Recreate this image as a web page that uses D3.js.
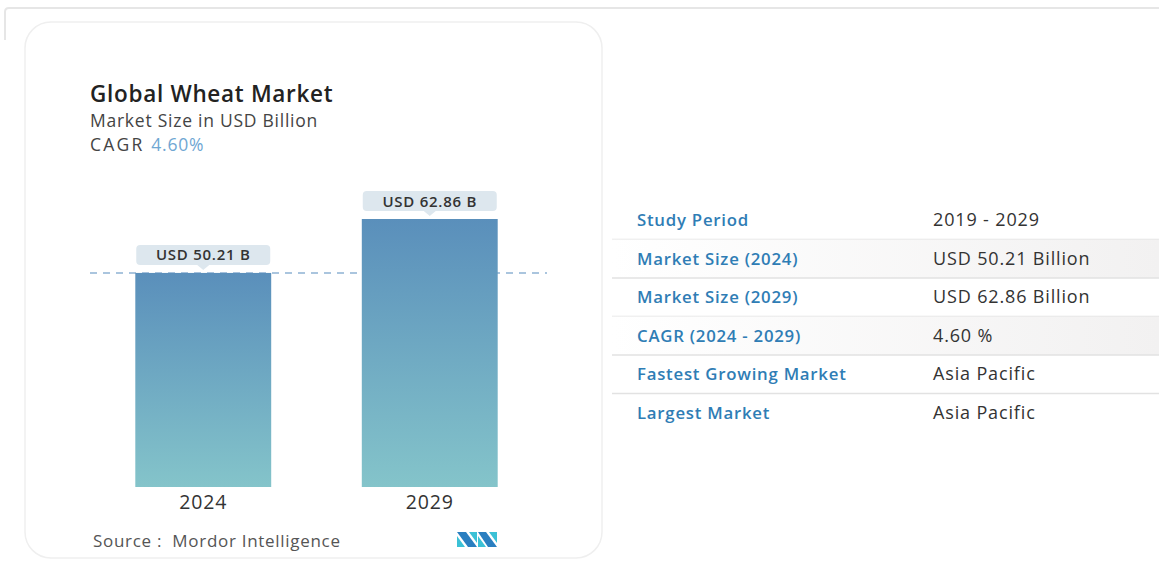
<!DOCTYPE html>
<html>
<head>
<meta charset="utf-8">
<script src="https://cdn.jsdelivr.net/npm/d3@7"></script>
<style>
  body { margin: 0; background: #fff; font-family: "Open Sans", Lato, sans-serif; }
  svg { display: block; }
</style>
</head>
<body>
<svg id="chart" width="1159" height="571"></svg>
<script>
/*********************
	Data
**********************/
var years = ["2024", "2029"];
var market_size = [50.21, 62.86];
var bar_labels = ["USD 50.21 B", "USD 62.86 B"];
var table_keys = ["Study Period", "Market Size (2024)", "Market Size (2029)", "CAGR (2024 - 2029)", "Fastest Growing Market", "Largest Market"];
var table_values = ["2019 - 2029", "USD 50.21 Billion", "USD 62.86 Billion", "4.60 %", "Asia Pacific", "Asia Pacific"];

var svg = d3.select("#chart");
var defs = svg.append("defs");

// bar gradient
var grad = defs.append("linearGradient")
    .attr("id", "bar-grad")
    .attr("x1", "0%").attr("y1", "0%")
    .attr("x2", "0%").attr("y2", "100%");
grad.append("stop").attr("offset", "0%").attr("stop-color", "#5a8fbb");
grad.append("stop").attr("offset", "100%").attr("stop-color", "#84c4ca");

// table row shading
var rowGrad = defs.append("linearGradient")
    .attr("id", "row-grad")
    .attr("x1", "0%").attr("y1", "0%")
    .attr("x2", "100%").attr("y2", "0%");
rowGrad.append("stop").attr("offset", "0%").attr("stop-color", "#ffffff");
rowGrad.append("stop").attr("offset", "100%").attr("stop-color", "#f2f1f1");

// outer panel
svg.append("path")
    .attr("d", "M5,40 L5,12 Q5,8 9,8 L1159,8")
    .attr("fill", "none").attr("stroke", "#e6e6e6").attr("stroke-width", 2);

// card
svg.append("rect")
    .attr("x", 25).attr("y", 22).attr("width", 577).attr("height", 536)
    .attr("rx", 26).attr("fill", "#fff")
    .attr("stroke", "#efefef").attr("stroke-width", 1.5);

/*********************
	Titles
**********************/
svg.append("text").attr("x", 90).attr("y", 102)
    .attr("font-size", 22.5).attr("font-weight", 600).attr("fill", "#222")
    .attr("letter-spacing", 0.7)
    .text("Global Wheat Market");
svg.append("text").attr("x", 90).attr("y", 127)
    .attr("font-size", 17.5).attr("fill", "#444")
    .attr("letter-spacing", 0.75)
    .text("Market Size in USD Billion");
var cagr = svg.append("text").attr("x", 90).attr("y", 151)
    .attr("font-size", 17.5).attr("fill", "#444");
cagr.append("tspan").attr("letter-spacing", 2.2).text("CAGR ");
cagr.append("tspan").attr("fill", "#6fa7d3").attr("letter-spacing", 0.8).text("4.60%");

/*********************
	Bars
**********************/
var x = d3.scaleBand()
    .domain(years)
    .range([90, 543])
    .paddingInner(0.4)
    .paddingOuter(0.2);

var y = d3.scaleLinear()
    .domain([0, 62.86])
    .range([487, 219]);

// dashed reference line at the first value
svg.append("line")
    .attr("x1", 90).attr("x2", 547)
    .attr("y1", y(market_size[0])).attr("y2", y(market_size[0]))
    .attr("stroke", "#8fb3d3").attr("stroke-width", 1.5)
    .attr("stroke-dasharray", "7,6");

svg.selectAll(".bar")
    .data(market_size)
    .enter().append("rect")
    .attr("class", "bar")
    .attr("x", function(d, i) { return x(years[i]); })
    .attr("y", function(d) { return y(d); })
    .attr("width", x.bandwidth())
    .attr("height", function(d) { return y(0) - y(d); })
    .attr("fill", "url(#bar-grad)");

// value callouts
var callout = svg.selectAll(".callout")
    .data(market_size)
    .enter().append("g")
    .attr("class", "callout")
    .attr("transform", function(d, i) {
        return "translate(" + (x(years[i]) + x.bandwidth() / 2) + "," + (y(d) - 8) + ")";
    });

callout.append("rect")
    .attr("x", -67).attr("y", -20).attr("width", 134).attr("height", 20)
    .attr("rx", 4).attr("fill", "#dde7ee");
callout.append("path")
    .attr("d", "M-6,0 L0,5 L6,0 Z")
    .attr("fill", "#dde7ee");
callout.append("text")
    .attr("y", -4.5).attr("text-anchor", "middle")
    .attr("font-size", 15).attr("font-weight", 600).attr("fill", "#333")
    .attr("letter-spacing", 0.75)
    .text(function(d, i) { return bar_labels[i]; });

// x axis labels
var xAxis = d3.axisBottom(x).tickSize(0).tickPadding(8);
var gx = svg.append("g")
    .attr("transform", "translate(0," + y(0) + ")")
    .call(xAxis);
gx.select(".domain").remove();
gx.selectAll("text")
    .attr("font-family", "'Open Sans', sans-serif")
    .attr("font-size", 19.5).attr("fill", "#333")
    .attr("letter-spacing", 0.8);

/*********************
	Footer
**********************/
svg.append("text").attr("x", 93).attr("y", 547)
    .attr("font-size", 17).attr("fill", "#555")
    .attr("letter-spacing", 0.7)
    .attr("xml:space", "preserve")
    .text("Source :  Mordor Intelligence");

// logo
var logo = svg.append("g").attr("transform", "translate(457,532)");
logo.append("path").attr("d", "M0,0 L9,0 L20,15 L11,15 Z").attr("fill", "#2a7fc0");
logo.append("path").attr("d", "M0,4 L8,15 L0,15 Z").attr("fill", "#3bc1d6");
logo.append("path").attr("d", "M12,0 L20,0 L20,11 Z").attr("fill", "#3bc1d6");
logo.append("path").attr("d", "M21,0 L29,0 L40,15 L31,15 Z").attr("fill", "#2a7fc0");
logo.append("path").attr("d", "M21,4 L29,15 L21,15 Z").attr("fill", "#3bc1d6");
logo.append("path").attr("d", "M32,0 L40,0 L40,11 Z").attr("fill", "#3bc1d6");

/*********************
	Summary table
**********************/
var row_top = 201, row_h = 38.5;
var rows = svg.selectAll(".row")
    .data(table_keys)
    .enter().append("g")
    .attr("class", "row")
    .attr("transform", function(d, i) { return "translate(0," + (row_top + i * row_h) + ")"; });

rows.filter(function(d, i) { return i == 1 || i == 3; })
    .append("rect")
    .attr("x", 612).attr("y", 0).attr("width", 547).attr("height", row_h)
    .attr("fill", "url(#row-grad)");

rows.filter(function(d, i) { return i < table_keys.length - 1; })
    .append("line")
    .attr("x1", 612).attr("x2", 1159)
    .attr("y1", row_h).attr("y2", row_h)
    .attr("stroke", "#e2e2e2").attr("stroke-width", 1.5);

rows.append("text")
    .attr("x", 637).attr("y", 25)
    .attr("font-size", 16.8).attr("font-weight", 600).attr("fill", "#2f7db5")
    .attr("letter-spacing", 0.75)
    .text(function(d) { return d; });

rows.append("text")
    .attr("x", 933).attr("y", 25)
    .attr("font-size", 18).attr("fill", "#333")
    .attr("letter-spacing", 0.85)
    .text(function(d, i) { return table_values[i]; });
</script>
</body>
</html>
